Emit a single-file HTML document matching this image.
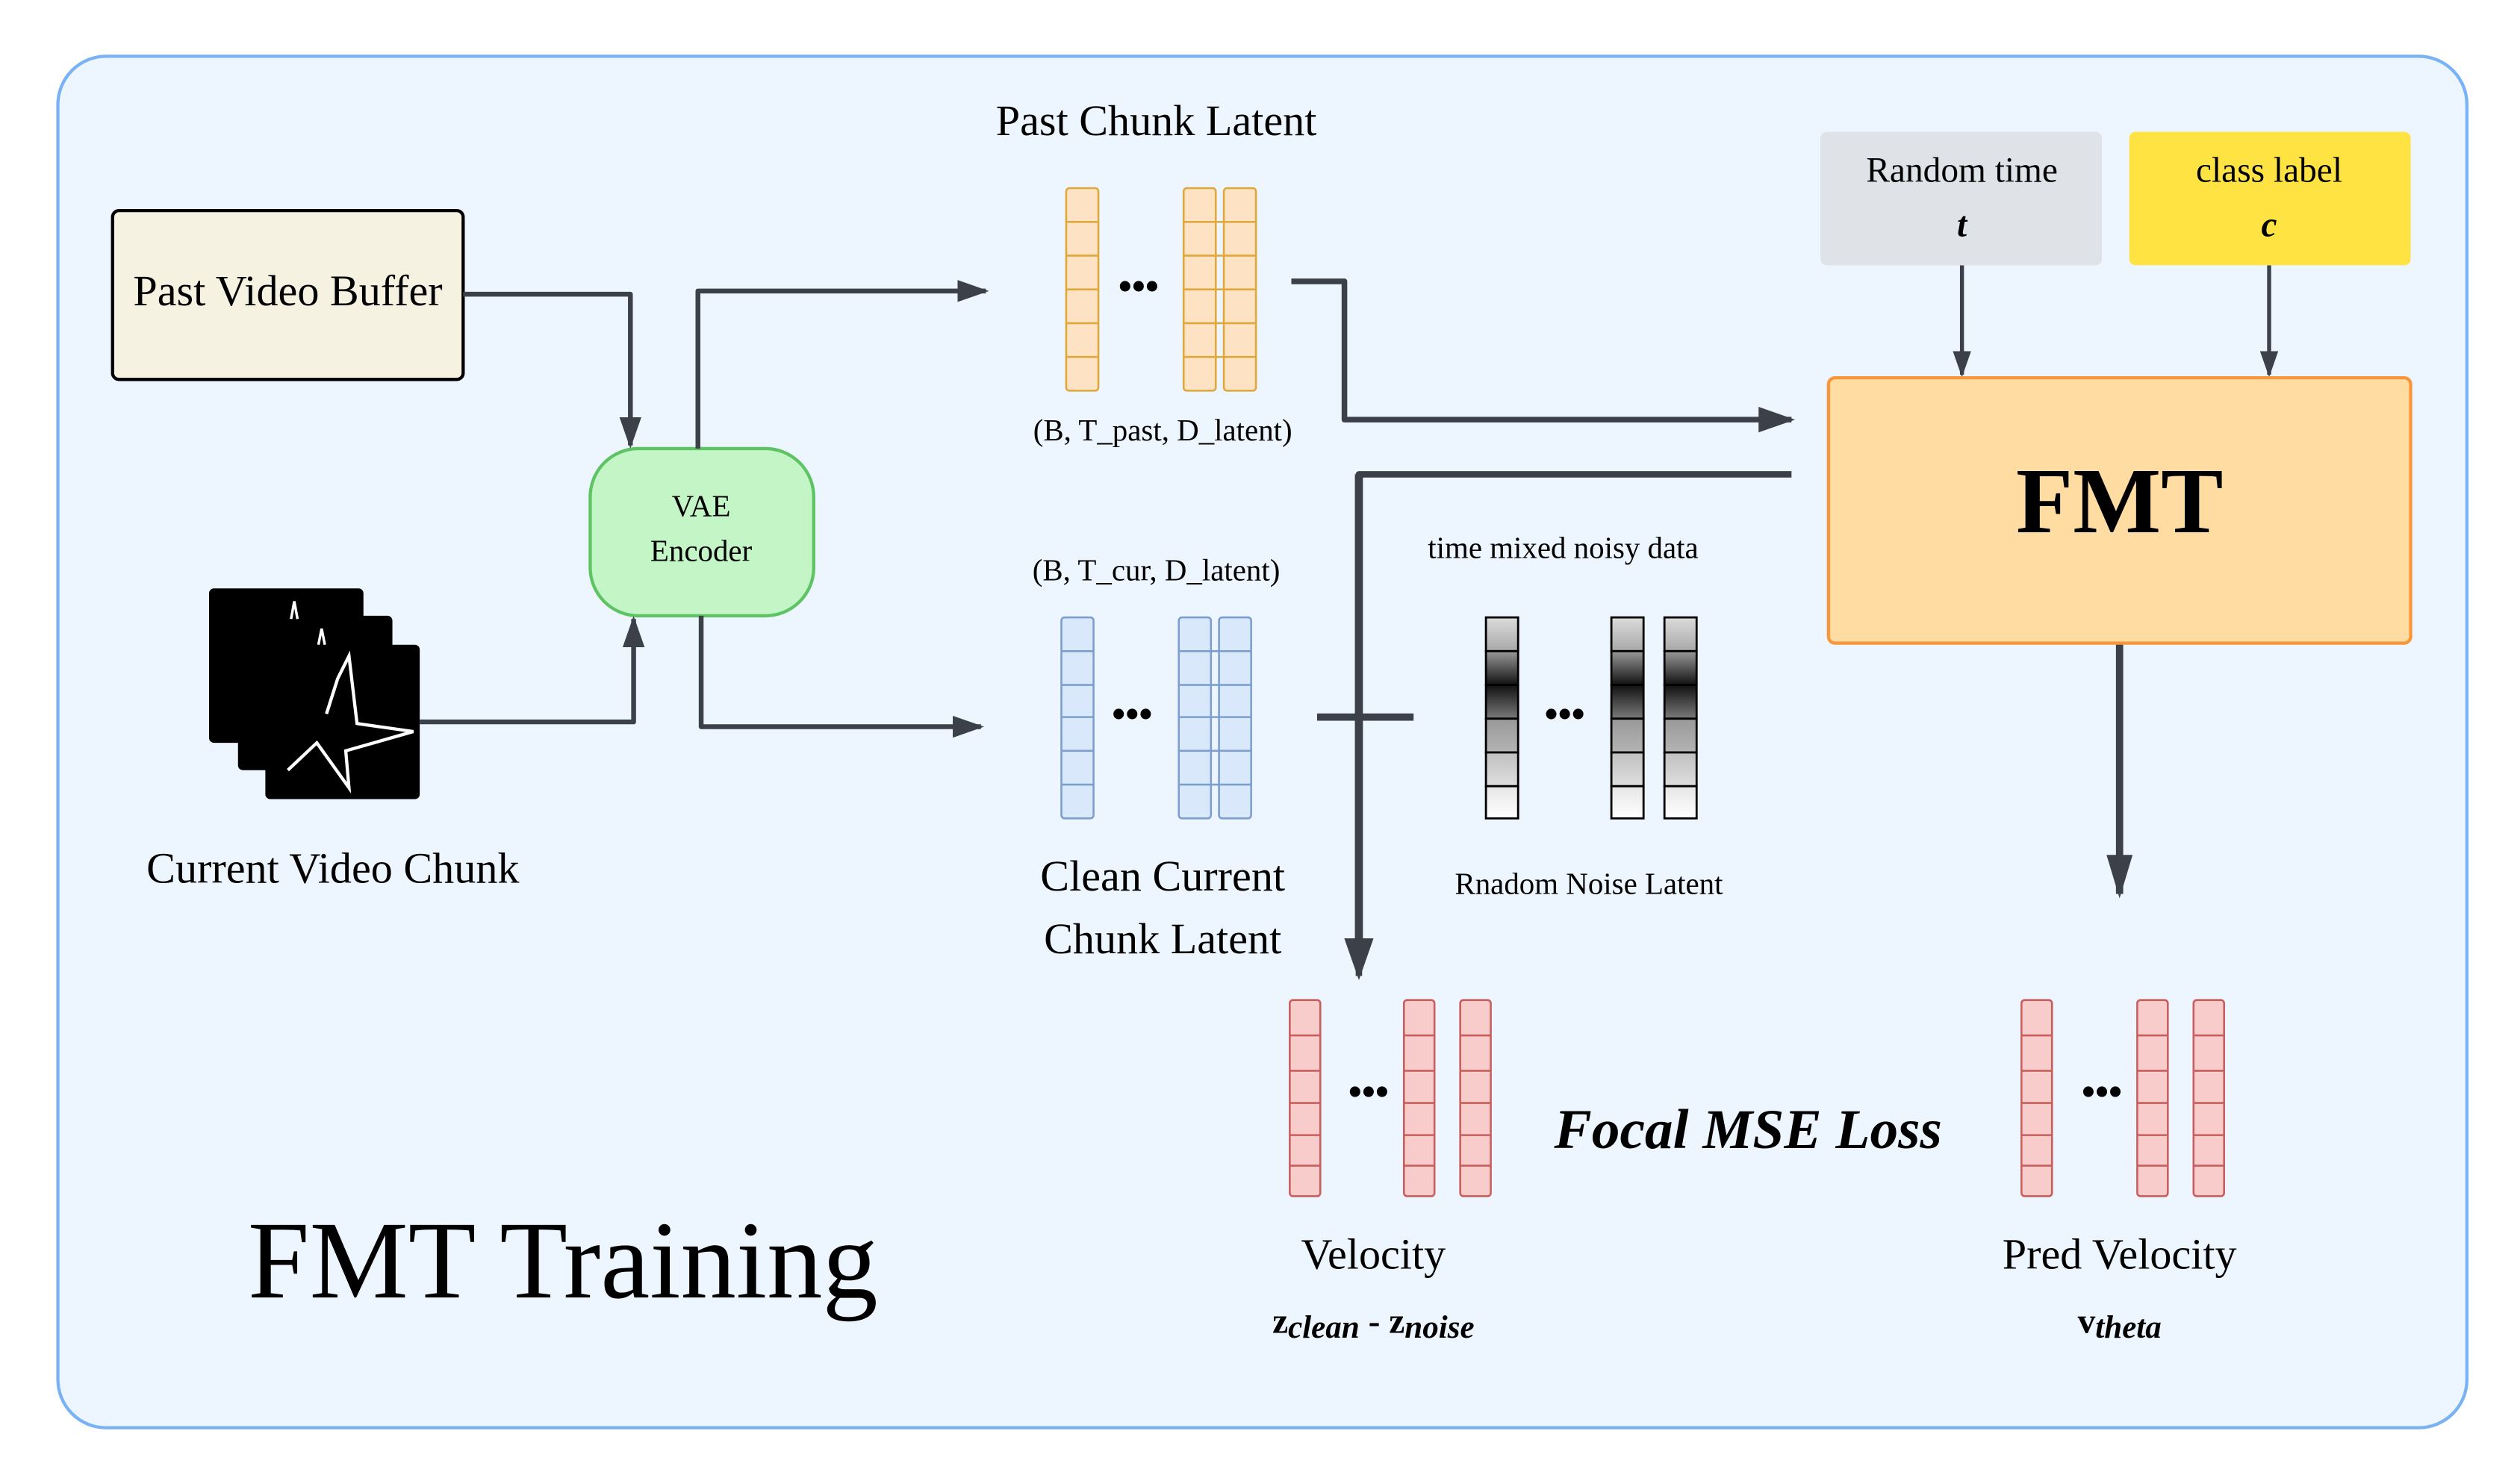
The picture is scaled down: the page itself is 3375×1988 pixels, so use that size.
<!DOCTYPE html>
<html><head><meta charset="utf-8"><style>
html,body{margin:0;padding:0;background:#fff}
svg{display:block}
text{font-family:"Liberation Serif",serif;fill:#000}
</style></head><body>
<svg width="3375" height="1988" viewBox="0 0 1567 923" preserveAspectRatio="none" xmlns="http://www.w3.org/2000/svg">
<defs>
<marker id="ah" viewBox="0 0 10 10" refX="9" refY="5" markerWidth="6.5" markerHeight="6.5" orient="auto" markerUnits="strokeWidth"><path d="M0,1.5 L10,5 L0,8.5 Z" fill="#3b4049"/></marker>
<marker id="ah2" viewBox="0 0 10 10" refX="9" refY="5" markerWidth="6" markerHeight="6" orient="auto" markerUnits="strokeWidth"><path d="M0,2 L10,5 L0,8 Z" fill="#3b4049"/></marker>
<linearGradient id="g1" x1="0" y1="0" x2="0" y2="1"><stop offset="0" stop-color="#dcdcdc"/><stop offset="1" stop-color="#a8a8a8"/></linearGradient>
<linearGradient id="g2" x1="0" y1="0" x2="0" y2="1"><stop offset="0" stop-color="#9a9a9a"/><stop offset="1" stop-color="#111"/></linearGradient>
<linearGradient id="g3" x1="0" y1="0" x2="0" y2="1"><stop offset="0" stop-color="#111"/><stop offset="1" stop-color="#7a7a7a"/></linearGradient>
<linearGradient id="g4" x1="0" y1="0" x2="0" y2="1"><stop offset="0" stop-color="#999"/><stop offset="1" stop-color="#b4b4b4"/></linearGradient>
<linearGradient id="g5" x1="0" y1="0" x2="0" y2="1"><stop offset="0" stop-color="#c0c0c0"/><stop offset="1" stop-color="#dedede"/></linearGradient>
<linearGradient id="g6" x1="0" y1="0" x2="0" y2="1"><stop offset="0" stop-color="#e6e6e6"/><stop offset="1" stop-color="#fff"/></linearGradient>
</defs>
<rect x="36" y="35" width="1498" height="853" rx="30" fill="#edf5fe" stroke="#7ab3f5" stroke-width="2"/>

<rect x="70" y="131" width="218" height="105" rx="4" fill="#f6f2e2" stroke="#000" stroke-width="2"/>
<text x="179" y="190" font-size="27" text-anchor="middle">Past Video Buffer</text>

<rect x="130" y="366" width="96" height="96" rx="3" fill="#000"/>
<rect x="148" y="383" width="96" height="96" rx="3" fill="#000"/>
<rect x="165" y="401" width="96" height="96" rx="3" fill="#000"/>
<path d="M203,444 L210,422 L217,408 L222,450 L257,455 L215,467 L217,490 L197,462 L179,479" fill="none" stroke="#fff" stroke-width="2"/>
<path d="M181,385 L183,374 L185,385" fill="none" stroke="#fff" stroke-width="1.6"/>
<path d="M198,401 L200,391 L202,401" fill="none" stroke="#fff" stroke-width="1.6"/>
<text x="207" y="549" font-size="27" text-anchor="middle">Current Video Chunk</text>

<rect x="367" y="279" width="139" height="104" rx="30" fill="#c3f5c6" stroke="#5ec463" stroke-width="2"/>
<text x="436" y="321" font-size="19" text-anchor="middle">VAE</text>
<text x="436" y="349" font-size="19" text-anchor="middle">Encoder</text>

<g fill="none" stroke="#3b4049" stroke-width="3" stroke-linejoin="round">
<path d="M288,183 H392 V277" marker-end="url(#ah)"/>
<path d="M261,449 H394 V385" marker-end="url(#ah)"/>
<path d="M434,279 V181 H613" marker-end="url(#ah)"/>
<path d="M436,383 V452 H610" marker-end="url(#ah)"/>
<path d="M803,175 H836 V261 H1114" marker-end="url(#ah)" stroke-width="3.5"/>
<path d="M1114,295 H845 V607" marker-end="url(#ah)" stroke-width="4"/>
<path d="M1220,165 V233" marker-end="url(#ah)" stroke-width="2.5"/>
<path d="M1411,165 V233" marker-end="url(#ah)" stroke-width="2.5"/>
<path d="M1318,400 V556" marker-end="url(#ah2)" stroke-width="4.5"/>
<path d="M819,446 H879" stroke-width="4.5"/>
</g>
<rect x="842.5" y="295" width="5" height="290" fill="#3b4049"/>

<text x="719" y="84" font-size="27" text-anchor="middle">Past Chunk Latent</text>
<text x="723" y="274" font-size="19" text-anchor="middle">(B, T_past, D_latent)</text>
<text x="719" y="361" font-size="19" text-anchor="middle">(B, T_cur, D_latent)</text>
<text x="972" y="347" font-size="19" text-anchor="middle">time mixed noisy data</text>
<text x="988" y="556" font-size="19" text-anchor="middle">Rnadom Noise Latent</text>
<text x="723" y="554" font-size="27" text-anchor="middle">Clean Current</text>
<text x="723" y="593" font-size="27" text-anchor="middle">Chunk Latent</text>

<g fill="#fde3c3" stroke="#e0a83a" stroke-width="1.2">
<rect x="663" y="117" width="20" height="126" rx="2"/><rect x="736" y="117" width="20" height="126" rx="2"/><rect x="761" y="117" width="20" height="126" rx="2"/>
<path d="M663,138H683M663,159H683M663,180H683M663,201H683M663,222H683 M736,138H781M736,159H781M736,180H781M736,201H781M736,222H781"/>
</g>
<text x="708" y="186" font-size="24" font-weight="bold" text-anchor="middle">•••</text>

<g fill="#dae8fb" stroke="#7c9fd0" stroke-width="1.2">
<rect x="660" y="384" width="20" height="125" rx="2"/><rect x="733" y="384" width="20" height="125" rx="2"/><rect x="758" y="384" width="20" height="125" rx="2"/>
<path d="M660,405H680M660,426H680M660,446H680M660,467H680M660,488H680 M733,405H778M733,426H778M733,446H778M733,467H778M733,488H778"/>
</g>
<text x="704" y="452" font-size="24" font-weight="bold" text-anchor="middle">•••</text>

<g stroke="#000" stroke-width="1.3">
<g id="nc">
<rect x="924" y="384" width="20" height="21" fill="url(#g1)"/>
<rect x="924" y="405" width="20" height="21" fill="url(#g2)"/>
<rect x="924" y="426" width="20" height="21" fill="url(#g3)"/>
<rect x="924" y="447" width="20" height="21" fill="url(#g4)"/>
<rect x="924" y="468" width="20" height="21" fill="url(#g5)"/>
<rect x="924" y="489" width="20" height="20" fill="url(#g6)"/>
</g>
<use href="#nc" x="78"/><use href="#nc" x="111"/>
</g>
<text x="973" y="452" font-size="24" font-weight="bold" text-anchor="middle">•••</text>

<rect x="1132" y="82" width="175" height="83" rx="4" fill="#dfe3e8"/>
<text x="1220" y="113" font-size="22" text-anchor="middle">Random time</text>
<text x="1220" y="147" font-size="22" font-weight="bold" font-style="italic" text-anchor="middle">t</text>
<rect x="1324" y="82" width="175" height="83" rx="4" fill="#fee343"/>
<text x="1411" y="113" font-size="22" text-anchor="middle">class label</text>
<text x="1411" y="147" font-size="22" font-weight="bold" font-style="italic" text-anchor="middle">c</text>

<rect x="1137" y="235" width="362" height="165" rx="4" fill="#fedca2" stroke="#f8973a" stroke-width="2"/>
<text x="1318" y="331" font-size="58" font-weight="bold" text-anchor="middle">FMT</text>

<g fill="#f7cccb" stroke="#c85e5e" stroke-width="1.2">
<rect x="802" y="622" width="19" height="122" rx="2"/><rect x="873" y="622" width="19" height="122" rx="2"/><rect x="908" y="622" width="19" height="122" rx="2"/>
<path d="M802,644H821M802,666H821M802,686H821M802,706H821M802,725H821 M873,644H892M873,666H892M873,686H892M873,706H892M873,725H892 M908,644H927M908,666H927M908,686H927M908,706H927M908,725H927"/>
<rect x="1257" y="622" width="19" height="122" rx="2"/><rect x="1329" y="622" width="19" height="122" rx="2"/><rect x="1364" y="622" width="19" height="122" rx="2"/>
<path d="M1257,644H1276M1257,666H1276M1257,686H1276M1257,706H1276M1257,725H1276 M1329,644H1348M1329,666H1348M1329,686H1348M1329,706H1348M1329,725H1348 M1364,644H1383M1364,666H1383M1364,686H1383M1364,706H1383M1364,725H1383"/>
</g>
<text x="851" y="687" font-size="24" font-weight="bold" text-anchor="middle">•••</text>
<text x="1307" y="687" font-size="24" font-weight="bold" text-anchor="middle">•••</text>

<text x="1087" y="714" font-size="35" font-weight="bold" font-style="italic" text-anchor="middle">Focal MSE Loss</text>
<text x="854" y="789" font-size="27" text-anchor="middle">Velocity</text>
<text x="854" y="829" font-size="22" text-anchor="middle" font-weight="bold">z<tspan font-style="italic" font-size="20" dy="3">clean</tspan><tspan dy="-3"> - z</tspan><tspan font-style="italic" font-size="20" dy="3">noise</tspan></text>
<text x="1318" y="789" font-size="27" text-anchor="middle">Pred Velocity</text>
<text x="1318" y="829" font-size="22" text-anchor="middle" font-weight="bold">v<tspan font-style="italic" font-size="20" dy="3">theta</tspan></text>

<text x="350" y="807" font-size="69" text-anchor="middle">FMT Training</text>
</svg>
</body></html>
